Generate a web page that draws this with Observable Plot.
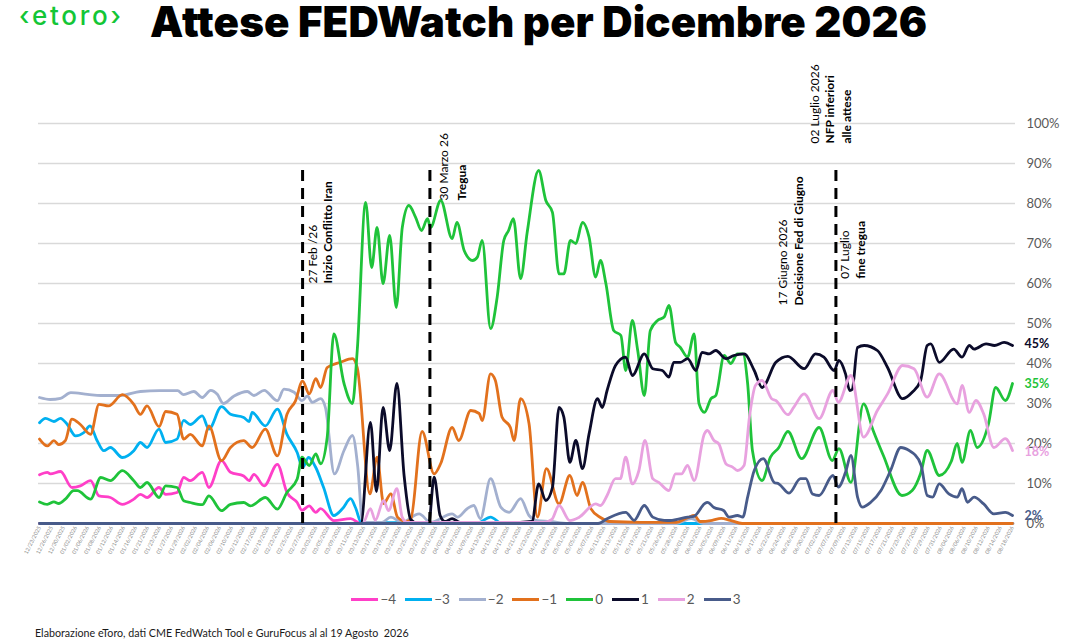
<!DOCTYPE html>
<html>
<head>
<meta charset="utf-8">
<script src="https://cdn.jsdelivr.net/npm/d3@7"></script>
<script src="https://cdn.jsdelivr.net/npm/@observablehq/plot@0.6"></script>
<style>
html,body{margin:0;padding:0;background:#fff;}
#wrap{position:relative;width:1092px;height:642px;overflow:hidden;font-family:Lato, "Open Sans", sans-serif;background:#fff;}
#chart{position:absolute;left:0;top:0;}
#logo{position:absolute;left:19px;top:0px;font-family:Inter, sans-serif;font-size:26px;font-weight:500;color:#13c636;letter-spacing:2.7px;}
#title{position:absolute;left:150px;top:1px;font-family:Inter, sans-serif;font-weight:900;font-size:42px;line-height:42px;color:#000;white-space:nowrap;letter-spacing:0.1px;}
#legend{position:absolute;top:591px;left:0;width:1092px;display:flex;justify-content:center;gap:9px;font-size:13.5px;color:#595959;font-family:Lato, sans-serif;}
.item{display:flex;align-items:center;}
.sw{width:27px;height:3px;margin-right:2px;}
#caption{position:absolute;left:35px;top:626px;font-size:10.7px;color:#1a1a1a;font-family:Lato, sans-serif;white-space:nowrap;}
</style>
</head>
<body>
<div id="wrap">
  <div id="chart"></div>
  <div id="logo">‹etoro›</div>
  <div id="title">Attese FEDWatch per Dicembre 2026</div>
  <div id="legend"></div>
  <div id="caption">Elaborazione eToro, dati CME FedWatch Tool e GuruFocus al al 19 Agosto&nbsp; 2026</div>
</div>
<script>
// ---- Series (rate-move scenarios, in 25bp steps) ----
const seriesNames = ["−4", "−3", "−2", "−1", "0", "1", "2", "3"];
const seriesColors = ["#ff3fc8", "#00b0f0", "#a3b0cf", "#e2711d", "#1fc33a", "#0b0b2a", "#e8a1df", "#485b8a"];

// Each point: [trading-day index, probability %]
const probM4 = [[0,12.2],[1.3,12.8],[1.8,12.4],[3.5,13],[5.4,9],[6.8,9.4],[8.5,10.7],[9.9,6.9],[11.8,6.5],[13.8,4.8],[15.7,6.1],[16.8,7.3],[17.9,6.5],[19.9,9],[21,7.3],[22.9,7.75],[24,11.5],[25.1,10.7],[27.1,12.8],[28.2,9],[30.3,15.7],[31.8,12.8],[34,11.9],[34.9,10.7],[35.7,12.3],[37.4,9.4],[39.6,14.8],[41.2,7.75],[42.9,5.25],[43.7,3.3],[44.9,4.4],[46,2.8],[46.8,3.7],[49,0.7],[51.8,1.2],[53.5,0],[162,0]];
const probM3 = [[0,25.2],[1,26.3],[2.4,25.5],[3.5,26.3],[4.6,24.8],[6,21.9],[7.4,22.75],[8.4,24.4],[9.6,20.7],[10.7,18.2],[11.8,19],[13.8,16.5],[15.7,18.2],[16.8,20.25],[17.9,19],[19.9,23.6],[21,20.25],[22.9,21.1],[24,25.8],[25.1,24.75],[27.1,26.9],[28.2,23.6],[30.3,29.2],[31.8,27.3],[34,26.5],[34.9,25.5],[35.4,27.75],[37.6,24.4],[39.6,28.6],[41.2,22.3],[42.9,17.75],[43.8,14],[44.8,16.5],[46,14],[47.3,9],[49,2],[50.5,3.8],[51.8,6.2],[52.6,4],[53.6,0.2],[73,0.2],[75.1,1.6],[77,0],[162,0]];
const probM2 = [[0,31.5],[1.8,31],[3.5,31.3],[5.2,32.7],[8,32.3],[10.2,32],[13.5,32],[16.8,33],[20,33.2],[23,33.2],[24,32.2],[25.7,33],[27.1,31.5],[28.5,33.3],[29.6,32.3],[30.6,30],[32.4,31.9],[34.6,33],[35.7,32],[37.4,33.3],[39.6,30.7],[40.7,33.6],[42.4,32.8],[43.7,30.7],[44.6,31.9],[45.4,30.3],[46.8,31.2],[47.6,29],[49.1,12.4],[50.7,18.25],[52.1,22],[53,14],[53.8,0.3],[57,0.3],[58.5,1.6],[60.3,0.3],[63.2,2.4],[65.1,0.3],[68.7,2.4],[69.6,1.6],[71.2,3.7],[72.3,4.5],[73.4,1.2],[75.1,11.2],[76.8,4.1],[78.2,2.8],[80.1,6.2],[81.5,2],[82.9,0.7],[85,0.5],[88,0],[106,0],[108.5,1.2],[110.5,0],[162,0]];
const probM1 = [[0,21.1],[1.3,19.4],[2.4,20.7],[3.2,19.7],[4.3,20.7],[5.4,26.1],[6.8,24.75],[8.5,22.3],[9.9,29.8],[11.5,29.4],[13.8,32.2],[15.7,29.8],[16.8,27.3],[17.9,29.4],[19.9,24.2],[21,28],[22.9,27.3],[24,21.1],[25.1,22.3],[27.1,19.4],[28.2,24.4],[30.3,15.7],[31.8,19],[34,20.7],[35.4,19],[37.6,23.6],[39.6,16.9],[41.2,27.3],[42.6,30.6],[43.8,35.6],[44.9,32.4],[46,36.2],[46.8,34],[47.9,39],[50.1,40.3],[52.1,41.2],[52.9,39],[55,7.4],[56.2,16.6],[57.3,5],[58.5,7.4],[59.6,1.6],[61,0.5],[61.8,1],[63.7,23],[65.7,12.4],[66.8,15],[68.7,24],[69.8,20.75],[71.8,28.25],[73.2,27.5],[73.7,25.75],[75.1,37.4],[75.9,35.75],[77,26.6],[78.4,24],[79,20.75],[80.1,31.2],[81.5,25],[82.9,1.6],[84.4,13.7],[86.5,4.9],[88.3,12],[89.5,7],[90.4,10.3],[91.8,3.7],[93.4,1.5],[95,0.5],[100,0.3],[106,0.3],[108,1.5],[109,2],[110,0.5],[112,0.8],[113.5,1.3],[115,0.8],[117,0],[162,0]];
const prob0 = [[0,5.4],[1.3,4.8],[2.4,5.4],[3.2,5],[4.3,6.1],[5.7,8.2],[6.3,8.2],[8.5,6.1],[10.2,11.5],[11.8,10.7],[13.8,13.2],[15.7,10.7],[16.8,9],[17.9,10.25],[19.9,6.5],[21,9.4],[22.9,9],[24,5.7],[25.1,5.25],[27.1,4.7],[28.2,6.9],[30.3,3.2],[31.8,4.8],[34,5.25],[35.1,4.4],[37.6,6.5],[39.6,3.6],[41.2,7.75],[42.9,11.1],[43.7,16.6],[44.9,14.5],[46,17.4],[46.8,14.9],[47.9,21.6],[49,47.4],[50.7,35],[52.1,30],[52.9,43.25],[54.3,80.3],[55.3,64],[56.2,74],[57.2,60],[58.3,72],[59.4,54],[60.4,74],[61.5,79.5],[62.6,76.6],[63.6,73.25],[64.6,76.2],[65.1,74],[66.8,80.75],[68.7,71.2],[69.5,75.3],[70.7,68.25],[72.1,65.75],[72.9,66.6],[73.7,70.75],[75.1,48.7],[76.2,56.6],[77.3,70.75],[78.1,73.25],[78.9,76.2],[80.1,61.2],[81.2,72.8],[83.1,88.25],[84.3,80.75],[85.4,77.8],[86.5,62.4],[87.3,62.4],[88.4,70.75],[89.3,70],[90.4,75.3],[91.5,71.6],[92.6,61.6],[93.4,65.75],[94.3,60],[95.6,48.25],[96.8,47],[97.6,38.25],[98.7,50.75],[99.6,43.25],[100.7,32],[101.7,48.25],[102.9,50.75],[104,51.6],[104.8,54.5],[105.9,45.3],[106.7,44],[107.9,41.6],[109,47.4],[109.8,30],[110.7,27.8],[111.8,31.2],[112.6,32],[114,42],[115.1,40],[116.2,42.4],[117.1,42.4],[117.9,35],[118.7,18.25],[120.3,10.75],[121.7,16.6],[123.1,19],[124.6,23],[126.9,16.2],[129.8,24],[132,15.75],[133.1,18.7],[135.1,10.3],[137.2,29.9],[138.8,23.25],[140.5,17],[143.6,7],[145.3,8.25],[146.7,12.5],[147.8,18.25],[149.8,12],[151.8,15.5],[152.8,20],[153.6,15.3],[155,23.25],[156.1,19],[158,24.9],[159.2,34],[160.8,30.75],[162,35]];
const prob1 = [[0,0],[53.5,0],[55.1,25.3],[56.1,8],[57.2,29],[58.3,18.25],[59.5,35],[60.7,12],[61.8,1],[63,0],[64.8,0],[65.7,11.6],[66.7,2],[67.5,0.5],[68.7,1.2],[70,0.3],[80,0.3],[82,0.5],[83.1,9.9],[84.3,5.75],[85.4,9],[86.5,29],[87.3,26.6],[88.3,15.3],[89.3,20.75],[90.4,13.7],[91.5,22.4],[92.9,31.2],[93.7,29],[94.5,33.25],[95.9,39.5],[97.6,41.6],[98.7,37],[100.7,42.4],[102.1,38.7],[103.7,38.25],[104.8,36.6],[105.6,40.3],[106.7,40.3],[107.9,41.2],[109.3,38.25],[110.3,42.8],[111.5,42.4],[112.6,43.25],[114.3,41.2],[115.6,42],[117.3,42.4],[119,38.25],[120.3,34],[122.6,40.3],[124.6,41.8],[127.3,38.7],[129.2,42.4],[130.6,41.6],[132.3,38.25],[133.1,40.75],[134.2,37.4],[134.9,33.25],[135.3,33.5],[136.2,44],[137.3,44.5],[139.5,43.25],[141.2,39],[143.7,31.2],[145.3,32.8],[146.7,35.75],[147.8,44.5],[148.4,44.9],[149.8,40.3],[152.2,43.6],[153.6,41.6],[154.8,44.5],[155.6,43.6],[157.6,44.9],[159,44.5],[160.6,45.3],[162,44.5]];
const prob2 = [[0,0],[53.8,0],[55.1,3.7],[55.9,0.8],[57.3,5.75],[58.1,3.2],[59.5,8.7],[60.4,1.5],[61.2,0.3],[84,0.3],[85.3,1],[86.5,4.5],[88.3,0.7],[89.8,1.5],[92.6,4.9],[93.4,4.5],[94.5,7],[95.9,11.2],[96.7,11.2],[97.6,16.6],[98.7,9.9],[99.8,13.25],[100.8,20.75],[102.1,11.2],[103.1,10.3],[104.8,8.25],[105.9,12.4],[106.9,12.4],[107.9,14.5],[109,10.75],[110.7,22.4],[111.2,23.25],[112.3,20.75],[113.1,19.9],[114.3,14.9],[115.4,14.1],[116.2,13.25],[117.3,14.5],[118.2,26.6],[119.2,34.5],[120.3,35.75],[121.9,31.2],[122.6,30.75],[124.6,27.2],[125.6,29.1],[127.3,32.4],[129.8,26.2],[132.1,33.25],[133,30.3],[135.1,37],[137.2,21.6],[139.5,28.25],[141.2,32.4],[143.7,39.5],[145.6,38.7],[147.8,31.6],[149.8,37.4],[152.8,29.9],[153.6,34.5],[154.8,27.8],[155.9,30.75],[157.2,27.4],[158.9,19],[160.8,21.2],[162,18.25]];
const prob3 = [[0,0],[93,0],[94.5,1.2],[97.6,2.8],[99,0.8],[100.7,4.5],[102.1,1.6],[104,0.8],[105,0.75],[107.9,1.6],[109,1.8],[110.7,4.9],[111.2,5.3],[112.3,4],[113.9,3.25],[114.8,1.6],[116.2,2],[117.1,1.6],[117.9,6.6],[119,13.25],[120.5,16.2],[122.3,10.3],[123.1,9.9],[124.8,7.6],[126.7,11.2],[127.6,11.2],[128.7,7.4],[129.8,7],[132.1,12],[133,9.1],[134.2,12.8],[135.1,17],[136.2,6.6],[137,4.1],[138.4,5.3],[140.1,8.25],[141.7,13.25],[143.4,19],[144.8,18.25],[145.6,17.4],[146.8,14.5],[147.8,7],[148.7,6.6],[149.8,9.9],[151.4,7.4],[152.8,6.6],[153.6,8.7],[154.5,5.3],[155.6,6.6],[157.2,4.9],[158.9,2.4],[160.8,2.8],[162,2]];

// ---- Axis tick labels (every second trading day) ----
const tickLabels = ["12/23/2025","12/26/2025","12/30/2025","01/02/2026","01/06/2026","01/08/2026","01/12/2026","01/14/2026","01/16/2026","01/21/2026","01/23/2026","01/27/2026","01/29/2026","02/02/2026","02/04/2026","02/06/2026","02/10/2026","02/12/2026","02/17/2026","02/19/2026","02/23/2026","02/25/2026","02/27/2026","03/03/2026","03/05/2026","03/09/2026","03/11/2026","03/13/2026","03/17/2026","03/19/2026","03/23/2026","03/25/2026","03/27/2026","03/31/2026","04/02/2026","04/07/2026","04/09/2026","04/13/2026","04/15/2026","04/17/2026","04/21/2026","04/23/2026","04/27/2026","04/29/2026","05/01/2026","05/05/2026","05/07/2026","05/11/2026","05/13/2026","05/15/2026","05/19/2026","05/21/2026","05/26/2026","05/28/2026","06/01/2026","06/03/2026","06/05/2026","06/09/2026","06/11/2026","06/15/2026","06/17/2026","06/22/2026","06/24/2026","06/26/2026","06/30/2026","07/02/2026","07/07/2026","07/09/2026","07/13/2026","07/15/2026","07/17/2026","07/21/2026","07/23/2026","07/27/2026","07/29/2026","07/31/2026","08/04/2026","08/06/2026","08/10/2026","08/12/2026","08/14/2026","08/18/2026"];
const yTicks = [0,10,20,30,40,50,60,70,80,90,100];

// ---- Events and annotations ----
const eventDays = [43.8, 65, 132.6];
const eventTops = [89.5, 89.5, 88.75];
const noteTexts = ["27 Feb /26","Inizio Conflitto Iran","30 Marzo 26","Tregua","17 Giugno 2026","Decisione Fed di Giugno","02 Luglio 2026","NFP inferiori","alle attese","07 Luglio","fine tregua"];
const noteDays = [45.6, 48.1, 67.4, 70.3, 123.8, 126.4, 129.1, 131.7, 134.4, 134.1, 136.8];
const noteBases = [60, 60, 80.75, 80.75, 54.5, 54.5, 95, 95, 95, 61.2, 61.2];
const noteBold = [false, true, false, true, false, true, false, true, true, false, true];

// ---- End-of-series labels ----
const endSeries = ["1", "0", "2", "3"];
const endValues = [45, 35, 18, 2];
const lastDay = 162;

// ---- Build tables ----
const allSeries = [probM4, probM3, probM2, probM1, prob0, prob1, prob2, prob3];
const rows = allSeries.flatMap((pts, k) => pts.map(([day, value]) => ({day, value, series: seriesNames[k]})));
const events = eventDays.map((day, i) => ({day, top: eventTops[i]}));
const notes = noteTexts.map((text, i) => ({text, day: noteDays[i], base: noteBases[i], bold: noteBold[i]}));
const ends = endSeries.map((series, i) => ({series, value: endValues[i], day: lastDay}));
const tickDays = tickLabels.map((_, i) => i * 2);

const chart = Plot.plot({
  width: 1092,
  height: 580,
  marginLeft: 38,
  marginRight: 77,
  marginTop: 123,
  marginBottom: 57,
  style: {fontFamily: "Lato, sans-serif", background: "transparent"},
  x: {domain: [-0.17, 162.5]},
  y: {domain: [0, 100]},
  color: {domain: seriesNames, range: seriesColors},
  marks: [
    Plot.gridY({ticks: yTicks, stroke: "#d9d9d9", strokeOpacity: 1, strokeWidth: 1.3}),
    Plot.axisY({anchor: "right", ticks: yTicks, tickFormat: d => d + "%", tickSize: 0, tickPadding: 11, fontSize: 13, fill: "#595959", label: null}),
    Plot.axisX({ticks: tickDays, tickFormat: d => tickLabels[Math.round(d / 2)], tickRotate: -63, tickSize: 0, tickPadding: 3, fontSize: 5.5, fill: "#8a8a8a", label: null}),
    Plot.line(rows, {x: "day", y: "value", z: "series", stroke: "series", curve: "monotone-x", strokeWidth: 2.8, strokeLinejoin: "round"}),
    Plot.ruleX(events, {x: "day", y1: 0, y2: "top", stroke: "#000", strokeWidth: 3, strokeDasharray: "11,7"}),
    Plot.text(notes.filter(d => !d.bold), {x: "day", y: "base", text: "text", rotate: -90, textAnchor: "start", fontSize: 12, fill: "#000"}),
    Plot.text(notes.filter(d => d.bold), {x: "day", y: "base", text: "text", rotate: -90, textAnchor: "start", fontSize: 12, fontWeight: "bold", fill: "#000"}),
    Plot.text(ends, {x: "day", y: "value", text: d => d.value + "%", fill: "series", dx: 12, textAnchor: "start", fontSize: 12.5, fontWeight: "bold"})
  ]
});
document.getElementById("chart").appendChild(chart);

// ---- Legend ----
const legend = document.getElementById("legend");
seriesNames.forEach((name, i) => {
  const item = document.createElement("div");
  item.className = "item";
  const sw = document.createElement("span");
  sw.className = "sw";
  sw.style.background = seriesColors[i];
  const lab = document.createElement("span");
  lab.textContent = name;
  item.appendChild(sw);
  item.appendChild(lab);
  legend.appendChild(item);
});
</script>
</body>
</html>
